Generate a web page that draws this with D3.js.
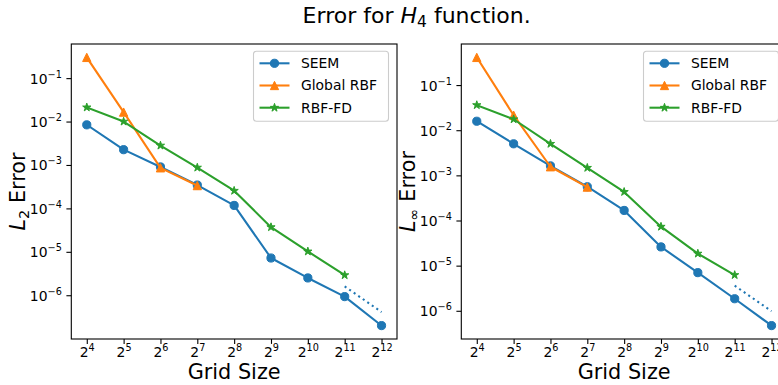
<!DOCTYPE html>
<html>
<head>
<meta charset="utf-8">
<script src="https://cdn.jsdelivr.net/npm/d3@7"></script>
<style>
  html, body { margin: 0; padding: 0; background: #fff; }
  svg { display: block; font-family: "DejaVu Sans", sans-serif; }
</style>
</head>
<body>
<svg id="chart" width="778" height="385"></svg>
<script>
// ---------- data ----------
const gridExponents = [4, 5, 6, 7, 8, 9, 10, 11, 12];          // grid size = 2^n
const seriesNames = ["SEEM", "Global RBF", "RBF-FD"];

// L2 error (left panel)
const l2Seem      = [8.4e-3, 2.25e-3, 9.0e-4, 3.45e-4, 1.17e-4, 7.2e-6, 2.5e-6, 9.3e-7, 2.0e-7];
const l2Global    = [0.30, 1.65e-2, 8.6e-4, 3.35e-4];
const l2RbfFd     = [2.12e-2, 1.0e-2, 2.8e-3, 8.7e-4, 2.55e-4, 3.7e-5, 1.02e-5, 2.9e-6];
const l2Ref       = [1.6e-6, 4.1e-7];   // dotted reference slope, 2^11 -> 2^12

// L-infinity error (right panel)
const linfSeem    = [1.58e-2, 5.0e-3, 1.62e-3, 5.6e-4, 1.67e-4, 2.6e-5, 7.0e-6, 1.85e-6, 4.7e-7];
const linfGlobal  = [0.41, 2.15e-2, 1.55e-3, 5.5e-4];
const linfRbfFd   = [3.6e-2, 1.75e-2, 5.0e-3, 1.47e-3, 4.3e-4, 7.3e-5, 1.85e-5, 6.2e-6];
const linfRef     = [3.6e-6, 9.8e-7];

const yTickExps = [-6, -5, -4, -3, -2, -1];
const colors = ["#1f77b4", "#ff7f0e", "#2ca02c"];

// ---------- layout ----------
const svg = d3.select("#chart");
const panels = [
  { left: 71.3, label: "L", sub: "2",
    series: [l2Seem, l2Global, l2RbfFd], ref: l2Ref },
  { left: 461.3, label: "L", sub: "\u221E",
    series: [linfSeem, linfGlobal, linfRbfFd], ref: linfRef }
];
const axTop = 44, axH = 295, axW = 325.7;

svg.append("text")
  .attr("x", 416.7).attr("y", 23)
  .attr("text-anchor", "middle")
  .attr("font-size", 22)
  .attr("fill", "#000")
  .call(t => {
    t.append("tspan").text("Error for ");
    t.append("tspan").attr("font-style", "italic").text("H");
    t.append("tspan").attr("font-size", 15.5).attr("dy", 4).text("4");
    t.append("tspan").attr("dy", -4).text(" function.");
  });

const symTriangle = {
  draw(ctx, size) {
    const r = Math.sqrt(size) / 2;
    ctx.moveTo(0, -r); ctx.lineTo(-r, r); ctx.lineTo(r, r); ctx.closePath();
  }
};
const markerSymbols = [d3.symbolCircle, symTriangle, d3.symbolStar];
const markerSizes = [Math.PI * 4.1 * 4.1, 8.3 * 8.3, 21];

panels.forEach(p => {
  const g = svg.append("g").attr("transform", `translate(${p.left},${axTop})`);

  const allVals = p.series.flat();
  const lmin = Math.log10(d3.min(allVals)), lmax = Math.log10(d3.max(allVals));
  const m = (lmax - lmin) * 0.05;
  const y = d3.scaleLog().domain([Math.pow(10, lmin - m), Math.pow(10, lmax + m)]).range([axH, 0]);
  const x = d3.scaleLog().base(2).domain([Math.pow(2, 3.58), Math.pow(2, 12.42)]).range([0, axW]);

  const clipId = "clip" + Math.round(p.left);
  svg.append("defs").append("clipPath").attr("id", clipId)
    .append("rect").attr("width", axW).attr("height", axH);

  // x axis
  const xAxis = d3.axisBottom(x)
    .tickValues(gridExponents.map(e => Math.pow(2, e)))
    .tickSize(4.9).tickPadding(3.5).tickFormat(() => "");
  const gx = g.append("g").attr("transform", `translate(0,${axH})`).call(xAxis);
  gx.select(".domain").remove();
  gx.selectAll(".tick line").attr("stroke", "#000").attr("stroke-width", 1.1);
  gx.selectAll(".tick").each(function(d, i) {
    const t = d3.select(this).select("text")
      .attr("y", 0).attr("dy", 0)
      .attr("transform", "translate(0,18)")
      .attr("font-size", 13.9).attr("fill", "#000")
      .attr("font-family", "DejaVu Sans").attr("text-anchor", "middle");
    t.append("tspan").text("2");
    t.append("tspan").attr("font-size", 9.7).attr("dy", -6).text(String(gridExponents[i]));
  });

  // y axis
  const yAxis = d3.axisLeft(y)
    .tickValues(yTickExps.map(e => Math.pow(10, e)))
    .tickSize(4.9).tickPadding(3.5).tickFormat(() => "");
  const gy = g.append("g").call(yAxis);
  gy.select(".domain").remove();
  gy.selectAll(".tick line").attr("stroke", "#000").attr("stroke-width", 1.1);
  gy.selectAll(".tick").each(function(d, i) {
    const t = d3.select(this).select("text")
      .attr("x", -9.5).attr("dy", 0).attr("y", 5)
      .attr("font-size", 13.9).attr("fill", "#000")
      .attr("font-family", "DejaVu Sans").attr("text-anchor", "end");
    t.append("tspan").text("10");
    t.append("tspan").attr("font-size", 9.7).attr("dy", -6).text("\u2212" + Math.abs(yTickExps[i]));
  });

  // plot content
  const plot = g.append("g").attr("clip-path", `url(#${clipId})`);
  const line = d3.line().x(d => x(d[0])).y(d => y(d[1]));

  p.series.forEach((vals, si) => {
    const pts = vals.map((v, i) => [Math.pow(2, gridExponents[i]), v]);
    plot.append("path").datum(pts)
      .attr("d", line).attr("fill", "none")
      .attr("stroke", colors[si]).attr("stroke-width", 2.08)
      .attr("stroke-linejoin", "round").attr("stroke-linecap", "square");
    plot.selectAll(null).data(pts).enter().append("path")
      .attr("transform", d => `translate(${x(d[0])},${y(d[1])})`)
      .attr("d", d3.symbol().type(markerSymbols[si]).size(markerSizes[si])())
      .attr("fill", colors[si]).attr("stroke", colors[si]).attr("stroke-width", 1);
  });

  // dotted reference line
  const refPts = [[Math.pow(2, 11), p.ref[0]], [Math.pow(2, 12), p.ref[1]]];
  plot.append("path").datum(refPts)
    .attr("d", line).attr("fill", "none")
    .attr("stroke", colors[0]).attr("stroke-width", 2.08)
    .attr("stroke-dasharray", "2.08,3.44");

  // spines
  g.append("rect").attr("width", axW).attr("height", axH)
    .attr("fill", "none").attr("stroke", "#000").attr("stroke-width", 1.1);

  // legend
  const lg = g.append("g").attr("transform", `translate(${axW - 143.5},${7.3})`);
  lg.append("rect").attr("width", 135).attr("height", 70).attr("rx", 3)
    .attr("fill", "#fff").attr("fill-opacity", 0.8)
    .attr("stroke", "#cccccc").attr("stroke-width", 1.1);
  seriesNames.forEach((name, si) => {
    const cy = 12 + si * 22.2;
    lg.append("line").attr("x1", 6).attr("x2", 36).attr("y1", cy).attr("y2", cy)
      .attr("stroke", colors[si]).attr("stroke-width", 2.08);
    lg.append("path").attr("transform", `translate(21,${cy})`)
      .attr("d", d3.symbol().type(markerSymbols[si]).size(markerSizes[si])())
      .attr("fill", colors[si]).attr("stroke", colors[si]).attr("stroke-width", 1);
    lg.append("text").attr("x", 47.5).attr("y", cy + 5)
      .attr("font-size", 13.9).attr("fill", "#000").text(name);
  });

  // x label
  g.append("text").attr("x", axW / 2).attr("y", 334.5)
    .attr("text-anchor", "middle").attr("font-size", 20.8).attr("fill", "#000")
    .text("Grid Size");

  // y label
  const yl = g.append("text")
    .attr("transform", `translate(-46.5,${axH / 2}) rotate(-90)`)
    .attr("text-anchor", "middle").attr("font-size", 20.8).attr("fill", "#000");
  yl.append("tspan").attr("font-style", "italic").text(p.label);
  yl.append("tspan").attr("font-size", 14.5).attr("dy", 4.5).text(p.sub);
  yl.append("tspan").attr("dy", -4.5).text(" Error");
});
</script>
</body>
</html>
